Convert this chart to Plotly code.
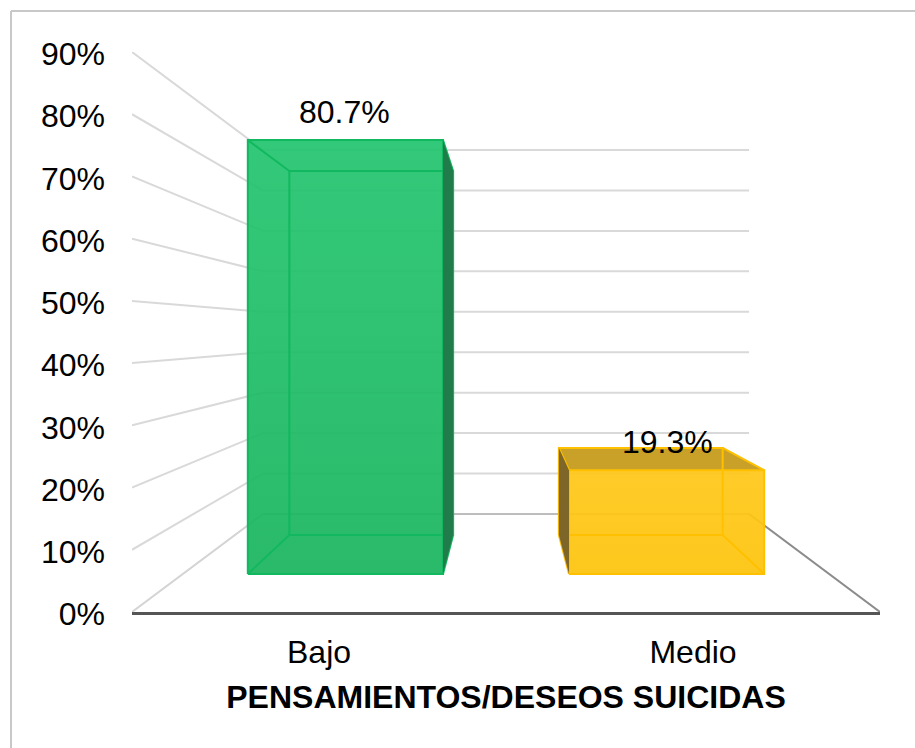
import plotly.graph_objects as go

categories = ["Bajo", "Medio"]
values = [80.7, 19.3]
labels = ["80.7%", "19.3%"]
ticks = [0, 10, 20, 30, 40, 50, 60, 70, 80, 90]
tick_labels = ["0%", "10%", "20%", "30%", "40%", "50%", "60%", "70%", "80%", "90%"]
axis_title = "PENSAMIENTOS/DESEOS SUICIDAS"

W, H = 915, 748
L, R, T, B = 132, 880, 52, 612
FONT = "Liberation Sans, Arial, sans-serif"
FS = 32

# perspective set-up of the 3-D chart, in axis units
VX, VY = len(categories) / 2, max(ticks) / 2
S_BACK = 0.65
S_BAR_FRONT = 0.864
S_BAR_BACK = 0.725
BAR_WIDTH = 0.604
BAR_CENTRE_PULL = 0.994

STYLES = [
    dict(edge="#12b85f", grad=["rgba(26,181,94,0.93)", "rgba(36,197,112,0.93)"], side="#207d4b", top="#17874c"),
    dict(edge="#ffc000", grad=["rgba(253,196,12,0.93)", "rgba(254,199,24,0.93)"], side="#7d6628", top="#c9a128"),
]


def pr(x, v, s):
    return VX + (x - VX) * s, VY + (v - VY) * s


def path(points):
    xs, ys = zip(*points)
    return list(xs) + [xs[0]], list(ys) + [ys[0]]


fig = go.Figure()


def line(xs, ys, color, width):
    fig.add_trace(go.Scatter(x=xs, y=ys, mode="lines", line=dict(color=color, width=width),
                             hoverinfo="skip", showlegend=False))


def face(points, color=None, grad=None):
    xs, ys = path(points)
    kw = dict(fillcolor=color) if color else dict(
        fillgradient=dict(type="vertical", colorscale=[[0, grad[0]], [1, grad[1]]]))
    fig.add_trace(go.Scatter(x=xs, y=ys, mode="lines", fill="toself", line=dict(width=0),
                             hoverinfo="skip", showlegend=False, **kw))


# walls: grid lines run from the front of the left wall to the back wall
x_max = len(categories)
for t in ticks[1:]:
    a = pr(0, t, 1)
    b = pr(0, t, S_BACK)
    c = pr(x_max, t, S_BACK)
    line([a[0], b[0], c[0]], [a[1], b[1], c[1]], "#d9d9d9", 2)

# floor
a = pr(0, 0, 1)
b = pr(0, 0, S_BACK)
c = pr(x_max, 0, S_BACK)
d = pr(x_max, 0, 1)
line([a[0], b[0]], [a[1], b[1]], "#d4d4d4", 2)
line([b[0], c[0]], [b[1], c[1]], "#bdbdbd", 2)
line([c[0], d[0]], [c[1], d[1]], "#8c8c8c", 2)

# bars
for i, (val, st) in enumerate(zip(values, STYLES)):
    centre = VX + (i + 0.5 - VX) * BAR_CENTRE_PULL
    x0, x1 = centre - BAR_WIDTH / 2, centre + BAR_WIDTH / 2
    f = [pr(x0, 0, S_BAR_FRONT), pr(x1, 0, S_BAR_FRONT), pr(x1, val, S_BAR_FRONT), pr(x0, val, S_BAR_FRONT)]
    k = [pr(x0, 0, S_BAR_BACK), pr(x1, 0, S_BAR_BACK), pr(x1, val, S_BAR_BACK), pr(x0, val, S_BAR_BACK)]
    if val < VY:
        face([f[3], f[2], k[2], k[3]], color=st["top"])
    face(f, grad=st["grad"])
    ex, ey = [], []
    for seq in (f + [f[0]], k + [k[0]], [f[0], k[0]], [f[1], k[1]], [f[2], k[2]], [f[3], k[3]]):
        ex += [p[0] for p in seq] + [None]
        ey += [p[1] for p in seq] + [None]
    line(ex, ey, st["edge"], 2)
    # the visible outer side goes over the edges, as it does in the reference
    if x1 < VX:
        face([f[1], f[2], k[2], k[1]], color=st["side"])
    if x0 > VX:
        face([f[0], f[3], k[3], k[0]], color=st["side"])

annotations = []
for i, (val, text) in enumerate(zip(values, labels)):
    px, py = pr(i + 0.5, val, S_BAR_FRONT)
    annotations.append(dict(x=px, y=py, xref="x", yref="y", text=text, showarrow=False,
                            yshift=28, yanchor="middle", xanchor="center",
                            font=dict(family=FONT, size=FS, color="#000000")))

fig.update_layout(
    width=W, height=H, autosize=False,
    margin=dict(l=L, r=W - R, t=T, b=H - B, pad=0),
    paper_bgcolor="#ffffff", plot_bgcolor="#ffffff",
    showlegend=False,
    annotations=annotations,
    shapes=[
        dict(type="line", xref="paper", yref="paper", x0=(11 - L) / (R - L), x1=(W - L) / (R - L),
             y0=(B - 11) / (B - T), y1=(B - 11) / (B - T), line=dict(color="#c8c8c8", width=2)),
        dict(type="line", xref="paper", yref="paper", x0=(11 - L) / (R - L), x1=(11 - L) / (R - L),
             y0=(B - 11) / (B - T), y1=(B - H) / (B - T), line=dict(color="#c8c8c8", width=2)),
    ],
    xaxis=dict(
        range=[0, x_max], tickmode="array", tickvals=[i + 0.5 for i in range(len(categories))],
        ticktext=categories, showgrid=False, zeroline=False, showline=True,
        linecolor="#555555", linewidth=3, ticks="", ticklabelstandoff=10,
        tickfont=dict(family=FONT, size=FS, color="#000000"),
        title=dict(text="<b>" + axis_title + "</b>", standoff=17,
                   font=dict(family=FONT, size=FS, color="#000000")),
        automargin=False,
    ),
    yaxis=dict(
        range=[0, max(ticks)], tickmode="array", tickvals=ticks, ticktext=tick_labels,
        showgrid=False, zeroline=False, showline=False, ticks="", ticklabelstandoff=26,
        ticklabelshift=2,
        tickfont=dict(family=FONT, size=FS, color="#000000"), automargin=False,
    ),
)

fig.write_html("out.html", config=dict(displayModeBar=False),
               post_script="document.body.style.margin='0';document.documentElement.style.overflow='hidden';")
